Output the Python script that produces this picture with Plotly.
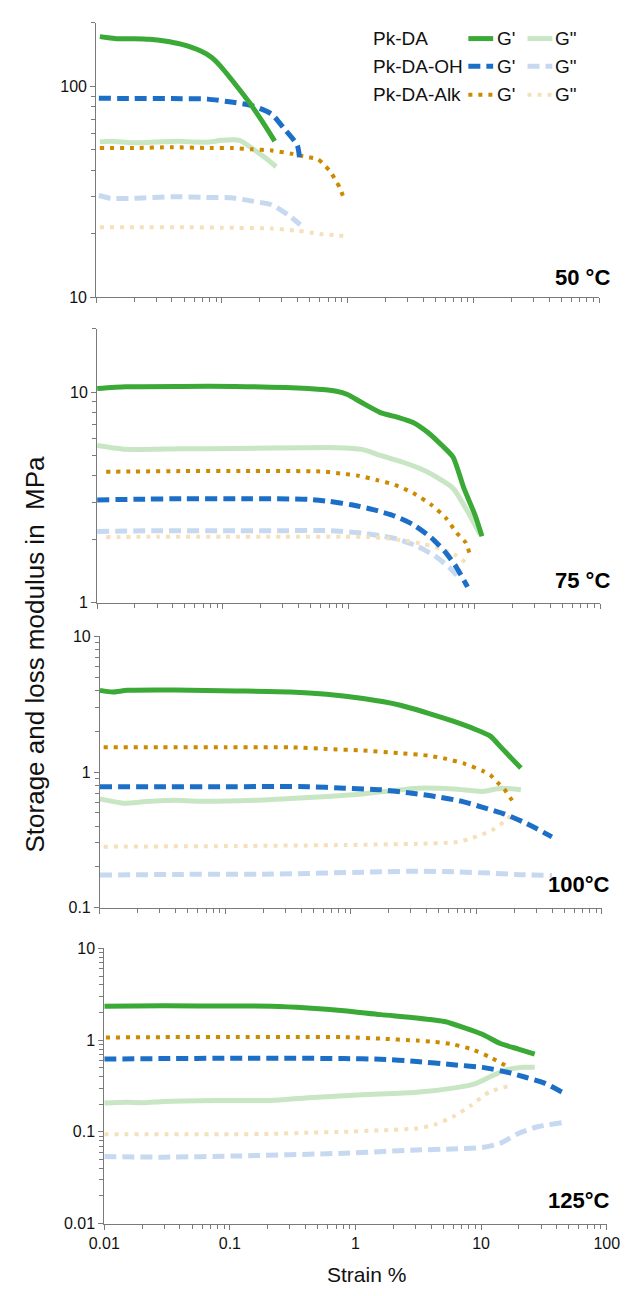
import math
import plotly.graph_objects as go

# ---------------- DATA ----------------
# Panel 1: 50 °C
p1_da_g1_x = [0.0107, 0.0125, 0.0148, 0.02, 0.0266, 0.035, 0.048, 0.068, 0.083, 0.097, 0.13, 0.165, 0.21, 0.263]
p1_da_g1_y = [172, 170, 168, 168, 167, 164, 158, 147, 137, 125, 101, 84, 68, 55]
p1_da_g2_x = [0.0107, 0.013, 0.02, 0.03, 0.045, 0.06, 0.08, 0.1, 0.138, 0.174, 0.22, 0.27]
p1_da_g2_y = [54.6, 55, 54, 54.5, 55, 54.5, 54.5, 55.5, 55.5, 50.8, 46, 41.6]
p1_oh_g1_x = [0.0105, 0.02, 0.04, 0.077, 0.123, 0.174, 0.248, 0.313, 0.398, 0.417]
p1_oh_g1_y = [87.9, 87.5, 87.5, 87, 84, 81, 74, 63, 52.6, 44]
p1_oh_g2_x = [0.0105, 0.013, 0.02, 0.04, 0.07, 0.123, 0.174, 0.248, 0.333, 0.42]
p1_oh_g2_y = [30.4, 29.5, 29.5, 30, 29.8, 29.6, 28.6, 27.5, 24.7, 22.1]
p1_alk_g1_x = [0.0107, 0.02, 0.04, 0.08, 0.123, 0.174, 0.248, 0.354, 0.47, 0.58, 0.65, 0.73, 0.80, 0.87, 0.95]
p1_alk_g1_y = [51, 51, 51.5, 51, 51, 50.3, 49.7, 48, 46.3, 45.2, 42.6, 39.4, 36, 32.9, 28.5]
p1_alk_g2_x = [0.0107, 0.02, 0.05, 0.1, 0.25, 0.398, 0.6, 0.83, 0.95]
p1_alk_g2_y = [21.5, 21.5, 21.5, 21.4, 21.2, 20.7, 20, 19.7, 19.5]

# Panel 2: 75 °C
p2_da_g1_x = [0.01, 0.017, 0.046, 0.125, 0.475, 0.80, 0.98, 1.28, 1.79, 2.5, 3.26, 4.25, 5.54, 6.77, 8.26, 10.1, 11.5]
p2_da_g1_y = [10.4, 10.6, 10.65, 10.65, 10.4, 10.1, 9.75, 8.9, 8.0, 7.58, 7.18, 6.45, 5.58, 4.92, 3.5, 2.62, 2.07]
p2_da_g2_x = [0.01, 0.017, 0.046, 0.125, 0.475, 0.8, 1.28, 1.79, 2.67, 3.97, 5.19, 6.77, 8.83, 11.1]
p2_da_g2_y = [5.58, 5.35, 5.38, 5.4, 5.45, 5.45, 5.35, 5.01, 4.66, 4.26, 3.9, 3.5, 2.72, 2.11]
p2_oh_g1_x = [0.01, 0.02, 0.05, 0.15, 0.475, 0.70, 1.05, 1.57, 2.33, 3.26, 4.54, 5.93, 7.23, 8.26, 8.83]
p2_oh_g1_y = [3.08, 3.1, 3.12, 3.12, 3.1, 3.03, 2.92, 2.77, 2.58, 2.35, 2.04, 1.73, 1.47, 1.28, 1.19]
p2_oh_g2_x = [0.01, 0.03, 0.1, 0.3, 0.7, 1.28, 1.79, 2.5, 3.48, 4.86, 6.33, 7.73]
p2_oh_g2_y = [2.18, 2.2, 2.2, 2.2, 2.2, 2.14, 2.08, 2.0, 1.86, 1.67, 1.47, 1.3]
p2_alk_g1_x = [0.0118, 0.02, 0.05, 0.15, 0.62, 0.86, 1.2, 1.67, 2.33, 3.26, 4.54, 5.93, 7.23, 8.54, 9.12]
p2_alk_g1_y = [4.19, 4.2, 4.22, 4.22, 4.2, 4.11, 4.01, 3.83, 3.63, 3.32, 2.92, 2.53, 2.15, 1.93, 1.73]
p2_alk_g2_x = [0.0118, 0.03, 0.1, 0.3, 0.9, 1.47, 2.05, 2.87, 3.97, 5.54, 7.23, 8.83]
p2_alk_g2_y = [2.05, 2.06, 2.06, 2.06, 2.06, 2.05, 2.02, 1.97, 1.9, 1.8, 1.67, 1.53]

# Panel 3: 100 °C
p3_da_g1_x = [0.01, 0.0126, 0.0165, 0.04, 0.122, 0.33, 0.64, 1.25, 2.43, 4.15, 6.61, 9.85, 12.9, 15.7, 19.2, 22.6]
p3_da_g1_y = [4.0, 3.89, 4.0, 4.02, 3.96, 3.89, 3.74, 3.48, 3.12, 2.71, 2.36, 2.06, 1.84, 1.52, 1.25, 1.07]
p3_da_g2_x = [0.01, 0.0154, 0.023, 0.039, 0.062, 0.17, 0.46, 1.25, 3.4, 6.61, 11.2, 15.7, 22.6]
p3_da_g2_y = [0.634, 0.59, 0.606, 0.62, 0.61, 0.62, 0.65, 0.69, 0.76, 0.75, 0.72, 0.76, 0.74]
p3_oh_g1_x = [0.01, 0.03, 0.1, 0.46, 0.9, 1.74, 2.97, 4.73, 7.55, 11.2, 16.8, 23.4, 30.6, 39.9]
p3_oh_g1_y = [0.78, 0.78, 0.78, 0.78, 0.76, 0.74, 0.70, 0.66, 0.61, 0.55, 0.49, 0.43, 0.38, 0.333]
p3_oh_g2_x = [0.01, 0.039, 0.237, 1.74, 3.4, 6.61, 12.9, 20.5, 39.9]
p3_oh_g2_y = [0.174, 0.176, 0.177, 0.184, 0.186, 0.184, 0.18, 0.176, 0.173]
p3_alk_g1_x = [0.0107, 0.03, 0.1, 0.33, 0.64, 1.25, 2.43, 4.15, 5.78, 8.07, 11.2, 12.9, 14.7, 16.8, 18.5, 20.5]
p3_alk_g1_y = [1.52, 1.52, 1.52, 1.52, 1.48, 1.44, 1.38, 1.32, 1.25, 1.15, 1.02, 0.95, 0.84, 0.74, 0.65, 0.574]
p3_alk_g2_x = [0.0107, 0.122, 0.9, 3.4, 6.61, 8.63, 11.2, 13.7, 16.8, 19.2]
p3_alk_g2_y = [0.282, 0.285, 0.29, 0.296, 0.303, 0.32, 0.348, 0.379, 0.435, 0.49]

# Panel 4: 125 °C
p4_da_g1_x = [0.01, 0.03, 0.11, 0.213, 0.417, 0.81, 1.58, 3.07, 5.23, 7.3, 10.2, 14.2, 19.8, 26.7]
p4_da_g1_y = [2.35, 2.37, 2.36, 2.35, 2.25, 2.1, 1.9, 1.75, 1.59, 1.37, 1.16, 0.92, 0.8, 0.705]
p4_da_g2_x = [0.01, 0.0149, 0.0208, 0.03, 0.0787, 0.213, 0.417, 1.13, 3.07, 5.98, 8.9, 11.6, 15.2, 21.2, 26.7]
p4_da_g2_y = [0.206, 0.21, 0.208, 0.215, 0.22, 0.22, 0.236, 0.254, 0.27, 0.3, 0.334, 0.394, 0.466, 0.506, 0.506]
p4_oh_g1_x = [0.01, 0.03, 0.1, 0.3, 0.81, 1.58, 3.07, 5.98, 10.2, 16.2, 22.6, 31.6, 44]
p4_oh_g1_y = [0.622, 0.63, 0.635, 0.635, 0.63, 0.62, 0.586, 0.54, 0.505, 0.447, 0.394, 0.342, 0.272]
p4_oh_g2_x = [0.01, 0.03, 0.11, 0.81, 3.07, 5.98, 10.2, 14.2, 19.8, 27.7, 44]
p4_oh_g2_y = [0.0538, 0.053, 0.0545, 0.0585, 0.0635, 0.065, 0.0675, 0.075, 0.096, 0.113, 0.126]
p4_alk_g1_x = [0.0103, 0.03, 0.1, 0.3, 0.81, 1.58, 3.07, 4.28, 5.98, 8.34, 11.6, 15.7]
p4_alk_g1_y = [1.07, 1.08, 1.08, 1.08, 1.08, 1.04, 0.99, 0.96, 0.9, 0.8, 0.66, 0.527]
p4_alk_g2_x = [0.01, 0.1, 0.213, 0.417, 0.81, 1.58, 3.07, 4.28, 5.98, 8.34, 11.6, 16.2]
p4_alk_g2_y = [0.094, 0.094, 0.095, 0.098, 0.1, 0.104, 0.109, 0.12, 0.146, 0.195, 0.272, 0.313]

panel_labels = ["50 °C", "75 °C", "100°C", "125°C"]
y_ranges = [(10, 200), (1, 20), (0.1, 10), (0.01, 10)]
x_range = (0.01, 100)
series_names = ["Pk-DA", "Pk-DA-OH", "Pk-DA-Alk"]

# ---------------- STYLE ----------------
W, H = 635, 1296
GREEN, LGREEN = "#3aa935", "#c8e6c4"
BLUE, LBLUE = "#1c6fc6", "#c6d9f0"
ORANGE, LORANGE = "#cc8a00", "#f5e0bc"
AXC = "#7a7a7a"
FONT = "Arial, Liberation Sans, sans-serif"
DASH = "12px,6px"
DOT = "4px,6px"

styles = {
    "da_g1": dict(color=GREEN, width=5, dash="solid"),
    "da_g2": dict(color=LGREEN, width=5, dash="solid"),
    "oh_g1": dict(color=BLUE, width=5, dash=DASH),
    "oh_g2": dict(color=LBLUE, width=5, dash=DASH),
    "alk_g1": dict(color=ORANGE, width=4, dash=DOT),
    "alk_g2": dict(color=LORANGE, width=4, dash=DOT),
}

# panel pixel boxes: (left, right, top, bottom)
boxes = [(84, 611, 15, 293.3), (85, 612, 325, 602.7), (88, 614, 636.7, 911.7), (92.5, 619, 953, 1231.7)]
label_y = [273, 580, 888, 1208]


def px(x):
    return x / W


def py(y):
    return 1 - y / H


G = globals()
fig = go.Figure()
order = ["da_g2", "oh_g2", "alk_g2", "alk_g1", "oh_g1", "da_g1"]
for i in range(4):
    p = i + 1
    xa = "x" if p == 1 else f"x{p}"
    ya = "y" if p == 1 else f"y{p}"
    for key in order:
        xs = G[f"p{p}_{key}_x"]
        ys = G[f"p{p}_{key}_y"]
        st = styles[key]
        fig.add_trace(go.Scatter(
            x=xs, y=ys, mode="lines", xaxis=xa, yaxis=ya,
            line=dict(color=st["color"], width=st["width"], dash=st["dash"],
                      shape="spline", smoothing=0.6),
            hoverinfo="skip", showlegend=False))

    l, r, t, b = boxes[i]
    xname = "xaxis" if p == 1 else f"xaxis{p}"
    yname = "yaxis" if p == 1 else f"yaxis{p}"
    fig.layout[xname] = dict(
        type="log", range=[math.log10(x_range[0]), math.log10(x_range[1])],
        domain=[px(l), px(r)], anchor=ya, showline=True, linecolor=AXC, linewidth=1,
        ticks="outside", ticklen=5, tickcolor=AXC, dtick=1, tick0=0,
        minor=dict(ticks="outside", ticklen=4, tickcolor=AXC, dtick="D1", showgrid=False),
        showgrid=False, zeroline=False, showticklabels=(p == 4),
        tickfont=dict(family=FONT, size=16, color="#111"),
    )
    fig.layout[yname] = dict(
        type="log", range=[math.log10(y_ranges[i][0]), math.log10(y_ranges[i][1])],
        domain=[py(b), py(t)], anchor=xa, showline=True, linecolor=AXC, linewidth=1,
        ticks="outside", ticklen=5, tickcolor=AXC, dtick=1, tick0=0,
        minor=dict(ticks="outside", ticklen=4, tickcolor=AXC, dtick="D1", showgrid=False),
        showgrid=False, zeroline=False,
        tickfont=dict(family=FONT, size=16, color="#111"),
    )
    fig.add_annotation(text=panel_labels[i], xref="paper", yref="paper",
                       x=px(624), y=py(label_y[i]), xanchor="right", yanchor="middle",
                       showarrow=False, font=dict(family=FONT, size=22, color="#000", weight="bold"))

# axis titles
fig.add_annotation(text="Strain %", xref="paper", yref="paper", x=px(367), y=py(1283),
                   xanchor="center", yanchor="middle", showarrow=False,
                   font=dict(family=FONT, size=21, color="#111"))
fig.add_annotation(text="Storage and loss modulus in  MPa", xref="paper", yref="paper",
                   x=px(20), y=py(655), xanchor="center", yanchor="middle", textangle=-90,
                   showarrow=False, font=dict(family=FONT, size=26, color="#111"))

# legend (manual, grid of 3 rows x 2 columns)
leg_rows = [31, 59, 88]
leg_keys = [("da_g1", "da_g2"), ("oh_g1", "oh_g2"), ("alk_g1", "alk_g2")]
for j, name in enumerate(series_names):
    yy = py(leg_rows[j])
    fig.add_annotation(text=name, xref="paper", yref="paper", x=px(372), y=yy,
                       xanchor="left", yanchor="middle", showarrow=False,
                       font=dict(family=FONT, size=19, color="#111"))
    for k, (x0, x1, tx, lab) in enumerate([(474, 500, 502, "G'"), (536, 562, 563, 'G"')]):
        st = styles[leg_keys[j][k]]
        fig.add_shape(type="line", xref="paper", yref="paper", x0=px(x0), x1=px(x1), y0=yy, y1=yy,
                      line=dict(color=st["color"], width=st["width"], dash=st["dash"]))
        fig.add_annotation(text=lab, xref="paper", yref="paper", x=px(tx), y=yy,
                           xanchor="left", yanchor="middle", showarrow=False,
                           font=dict(family=FONT, size=19, color="#111"))

fig.update_layout(width=W, height=H, margin=dict(l=0, r=0, t=0, b=0),
                  paper_bgcolor="white", plot_bgcolor="white", showlegend=False)

fig.write_html("out.html", config={"displayModeBar": False},
               post_script="document.body.style.margin='0';document.body.style.overflow='hidden';"
                           "document.documentElement.style.overflow='hidden';")
